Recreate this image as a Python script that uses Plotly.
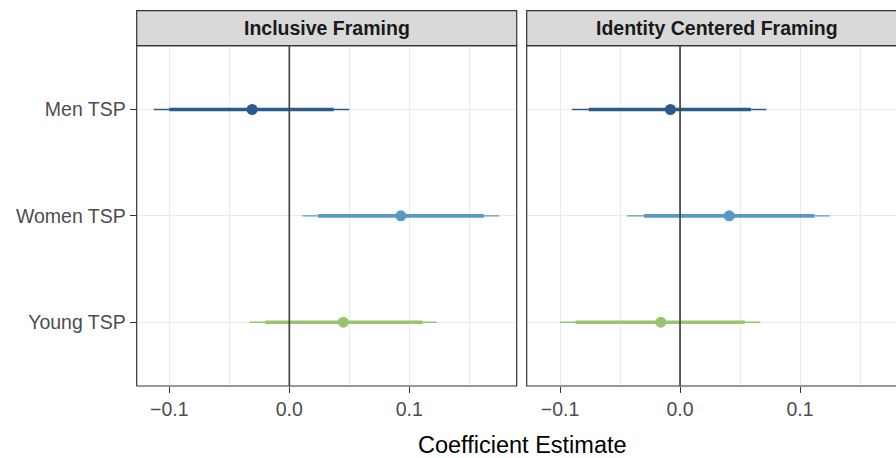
import plotly.graph_objects as go

# ---------------- data ----------------
categories = ["Men TSP", "Women TSP", "Young TSP"]
panels = ["Inclusive Framing", "Identity Centered Framing"]
colors = ["#2C5A8D", "#5A99C6", "#97C46D"]

incl_est = [-0.031, 0.093, 0.045]
incl_lo90 = [-0.100, 0.024, -0.020]
incl_hi90 = [0.037, 0.162, 0.111]
incl_lo95 = [-0.113, 0.011, -0.033]
incl_hi95 = [0.050, 0.175, 0.123]

iden_est = [-0.008, 0.041, -0.016]
iden_lo90 = [-0.076, -0.030, -0.087]
iden_hi90 = [0.059, 0.112, 0.054]
iden_lo95 = [-0.090, -0.044, -0.100]
iden_hi95 = [0.072, 0.125, 0.067]

x_ticks = [-0.1, 0.0, 0.1]
x_tick_labels = ["\u22120.1", "0.0", "0.1"]
x_minor = [-0.15, -0.05, 0.05, 0.15]

# ---------------- layout geometry (pixels) ----------------
W, H = 896, 458
FONT = "Liberation Sans, Arial, Helvetica, sans-serif"
left_px = (136.7, 516.7)
right_px = (526.7, 896.0)
right_full_end = 907.4
panel_top, panel_bot = 45.7, 386.0
strip_top = 10.7


def px_x(v):
    return v / W


def px_y(v):
    return (H - v) / H


fig = go.Figure()

panel_data = [
    (incl_est, incl_lo90, incl_hi90, incl_lo95, incl_hi95),
    (iden_est, iden_lo90, iden_hi90, iden_lo95, iden_hi95),
]

for p, (est, lo90, hi90, lo95, hi95) in enumerate(panel_data):
    xa = "x" if p == 0 else "x2"
    ya = "y" if p == 0 else "y2"
    for i, cat in enumerate(categories):
        fig.add_trace(go.Scatter(
            x=[lo95[i], hi95[i]], y=[cat, cat], mode="lines",
            line=dict(color=colors[i], width=1.4), xaxis=xa, yaxis=ya,
            showlegend=False, hoverinfo="skip"))
        fig.add_trace(go.Scatter(
            x=[lo90[i], hi90[i]], y=[cat, cat], mode="lines",
            line=dict(color=colors[i], width=3.6), xaxis=xa, yaxis=ya,
            showlegend=False, hoverinfo="skip"))
        fig.add_trace(go.Scatter(
            x=[est[i]], y=[cat], mode="markers",
            marker=dict(color=colors[i], size=11, line=dict(width=0)),
            xaxis=xa, yaxis=ya, showlegend=False))

ydom = [px_y(panel_bot), px_y(panel_top)]

xcommon = dict(
    tickmode="array", tickvals=x_ticks, ticktext=x_tick_labels,
    showgrid=True, gridcolor="#EBEBEB", gridwidth=1.3,
    minor=dict(tickvals=x_minor, showgrid=True, gridcolor="#EBEBEB",
               gridwidth=0.8, ticks=""),
    zeroline=False, showline=False,
    ticks="outside", ticklen=6, tickwidth=1.1, tickcolor="#333333",
    tickfont=dict(family=FONT, size=19.5, color="#4D4D4D"),
    fixedrange=True,
)
ycommon = dict(
    type="category", categoryorder="array", categoryarray=categories,
    range=[2.6, -0.6], domain=ydom,
    showgrid=True, gridcolor="#EBEBEB", gridwidth=1.3,
    zeroline=False, showline=False,
    fixedrange=True,
)

fig.update_layout(
    width=W, height=H,
    margin=dict(l=0, r=0, t=0, b=0),
    paper_bgcolor="white", plot_bgcolor="white",
    font=dict(family=FONT, color="#4D4D4D"),
    showlegend=False,
    xaxis=dict(domain=[px_x(left_px[0]), px_x(left_px[1])],
               range=[-0.1272, 0.1895], anchor="y", **xcommon),
    xaxis2=dict(domain=[px_x(right_px[0]), px_x(right_px[1])],
                range=[-0.1278, 0.18], anchor="y2", **xcommon),
    yaxis=dict(anchor="x", ticks="outside", ticklen=6, tickwidth=1.1,
               tickcolor="#333333",
               tickfont=dict(family=FONT, size=19.5, color="#4D4D4D"),
               **ycommon),
    yaxis2=dict(anchor="x2", showticklabels=False, ticks="", **ycommon),
)

shapes = []
annotations = []
panel_extents = [(left_px[0], left_px[1]), (right_px[0], right_full_end)]
for p, (x0, x1) in enumerate(panel_extents):
    # strip
    shapes.append(dict(type="rect", xref="paper", yref="paper",
                       x0=px_x(x0), x1=px_x(x1), y0=px_y(panel_top), y1=px_y(strip_top),
                       fillcolor="#D9D9D9", line=dict(color="#333333", width=1.2),
                       layer="above"))
    # panel border
    shapes.append(dict(type="rect", xref="paper", yref="paper",
                       x0=px_x(x0), x1=px_x(x1), y0=px_y(panel_bot), y1=px_y(panel_top),
                       fillcolor="rgba(0,0,0,0)", line=dict(color="#333333", width=1.2),
                       layer="above"))
    # zero reference line
    xr = "x" if p == 0 else "x2"
    yr = "y domain" if p == 0 else "y2 domain"
    shapes.append(dict(type="line", xref=xr, yref=yr, x0=0, x1=0, y0=0, y1=1,
                       line=dict(color="#444444", width=1.7), layer="above"))
    annotations.append(dict(
        text="<b>%s</b>" % panels[p], xref="paper", yref="paper",
        x=px_x((x0 + x1) / 2), y=px_y((strip_top + panel_top) / 2),
        xanchor="center", yanchor="middle", showarrow=False,
        font=dict(family=FONT, size=19.5, color="#1A1A1A")))

annotations.append(dict(
    text="Coefficient Estimate", xref="paper", yref="paper",
    x=px_x((left_px[0] + right_full_end) / 2), y=px_y(445.0),
    xanchor="center", yanchor="middle", showarrow=False,
    font=dict(family=FONT, size=23.5, color="#000000")))

fig.update_layout(shapes=shapes, annotations=annotations)

fig.write_html("out.html",
               config={"displayModeBar": False},
               post_script="document.body.style.margin='0';document.body.style.overflow='hidden';")
